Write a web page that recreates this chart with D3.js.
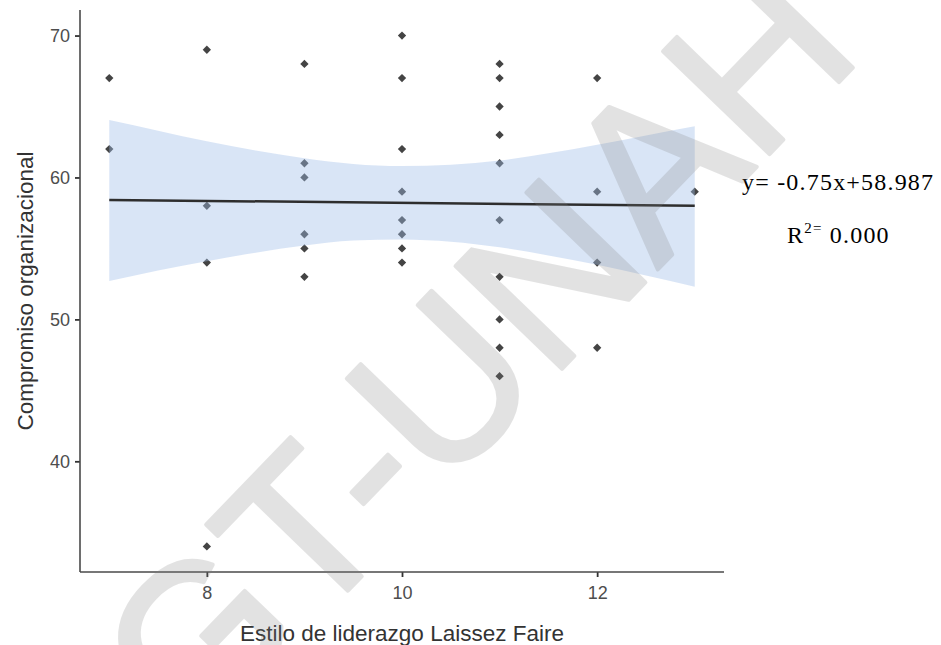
<!DOCTYPE html>
<html>
<head>
<meta charset="utf-8">
<script src="https://cdn.jsdelivr.net/npm/d3@7"></script>
<style>
  html, body { margin: 0; padding: 0; background: #fff; }
  svg { display: block; }
</style>
</head>
<body>
<svg id="chart" width="941" height="645"></svg>
<script>
// ---- data ----
const pointX = [7, 7,
  8, 8, 8, 8,
  9, 9, 9, 9, 9, 9,
  10, 10, 10, 10, 10, 10, 10, 10,
  11, 11, 11, 11, 11, 11, 11, 11, 11, 11,
  12, 12, 12, 12,
  13];
const pointY = [67, 62,
  69, 58, 54, 34,
  68, 61, 60, 56, 55, 53,
  70, 67, 62, 59, 57, 56, 55, 54,
  68, 67, 65, 63, 61, 57, 53, 50, 48, 46,
  67, 59, 54, 48,
  59];
const fitX = [7, 13];
const fitY = [58.42, 58.0];
const bandX  = [7, 7.5, 8, 8.5, 9, 9.5, 10, 10.5, 11, 11.5, 12, 12.5, 13];
const bandHi = [64.05, 63.3, 62.55, 61.9, 61.35, 60.95, 60.8, 60.9, 61.2, 61.7, 62.3, 62.95, 63.6];
const bandLo = [52.7, 53.45, 54.1, 54.7, 55.2, 55.55, 55.63, 55.47, 55.08, 54.5, 53.85, 53.1, 52.3];
const xTicks = [8, 10, 12];
const yTicks = [40, 50, 60, 70];
const xTitle = "Estilo de liderazgo Laissez Faire";
const yTitle = "Compromiso organizacional";
const eqText = "y= -0.75x+58.987";
const r2Value = "0.000";
const watermark = "GT-UNAH";

(function () {
// ---- layout ----
const svg = d3.select("#chart");
const pLeft = 80, pRight = 724, pTop = 10, pBottom = 572;
const x = d3.scaleLinear().domain([6.7, 13.3]).range([pLeft, pRight]);
const y = d3.scaleLinear().domain([32.2, 71.8]).range([pBottom, pTop]);

// points (drawn under the band, as in the reference)
svg.append("g").selectAll("path")
  .data(pointX.map((d, i) => [d, pointY[i]]))
  .join("path")
  .attr("transform", d => `translate(${x(d[0])},${y(d[1])})`)
  .attr("d", d3.symbol().type(d3.symbolDiamond2).size(44))
  .attr("fill", "#444");

// confidence band
const area = d3.area()
  .x((d, i) => x(bandX[i]))
  .y0((d, i) => y(bandLo[i]))
  .y1((d, i) => y(bandHi[i]))
  .curve(d3.curveMonotoneX);
svg.append("path")
  .datum(bandX)
  .attr("d", area)
  .attr("fill", "rgb(161,191,232)")
  .attr("fill-opacity", 0.4);

// fit line
svg.append("path")
  .datum(fitX.map((d, i) => [d, fitY[i]]))
  .attr("d", d3.line().x(d => x(d[0])).y(d => y(d[1])))
  .attr("stroke", "#2e2e2e")
  .attr("stroke-width", 2.5)
  .attr("fill", "none");

// axes
const font = "'Liberation Sans', Arial, sans-serif";
const xAxis = svg.append("g")
  .attr("transform", `translate(0,${pBottom})`)
  .call(d3.axisBottom(x).tickValues(xTicks).tickSize(5).tickPadding(5).tickFormat(d3.format("d")));
const yAxis = svg.append("g")
  .attr("transform", `translate(${pLeft},0)`)
  .call(d3.axisLeft(y).tickValues(yTicks).tickSize(5).tickPadding(5).tickFormat(d3.format("d")));
[xAxis, yAxis].forEach(g => {
  g.select(".domain").remove();
  g.selectAll(".tick line").attr("stroke", "#333").attr("stroke-width", 1.8);
  g.selectAll(".tick text").attr("fill", "#4d4d4d").style("font-family", font).style("font-size", "18px");
});
xAxis.selectAll(".tick text").attr("dy", "0.95em");
// axis lines
svg.append("line").attr("x1", pLeft).attr("x2", pLeft).attr("y1", pTop).attr("y2", pBottom)
  .attr("stroke", "#4a4a4a").attr("stroke-width", 1.6);
svg.append("line").attr("x1", pLeft).attr("x2", pRight).attr("y1", pBottom).attr("y2", pBottom)
  .attr("stroke", "#4a4a4a").attr("stroke-width", 1.6);

// axis titles
svg.append("text")
  .attr("x", (pLeft + pRight) / 2).attr("y", 641)
  .attr("text-anchor", "middle")
  .style("font-family", font).style("font-size", "22.5px")
  .attr("fill", "#333")
  .text(xTitle);
svg.append("text")
  .attr("transform", `translate(33,${(pTop + pBottom) / 2}) rotate(-90)`)
  .attr("text-anchor", "middle")
  .style("font-family", font).style("font-size", "22.5px")
  .attr("fill", "#333")
  .text(yTitle);

// equation annotation
const serif = "'Liberation Serif', 'Times New Roman', serif";
svg.append("text")
  .attr("x", 742).attr("y", 190)
  .style("font-family", serif).style("font-size", "24px")
  .style("letter-spacing", "1.2px")
  .attr("fill", "#000")
  .text(eqText);
const r2 = svg.append("text")
  .attr("x", 787).attr("y", 243)
  .style("font-family", serif).style("font-size", "24px")
  .style("letter-spacing", "1.2px")
  .attr("fill", "#000");
r2.append("tspan").text("R");
r2.append("tspan").attr("dy", -10).style("font-size", "15px").text("2=");
r2.append("tspan").attr("dy", 10).text(" " + r2Value);

// watermark
svg.append("g").attr("opacity", 0.22)
  .append("text")
  .attr("transform", "translate(529,403) rotate(-46)")
  .attr("text-anchor", "middle")
  .style("font-family", font).style("font-size", "215px")
  .attr("fill", "#808080")
  .attr("stroke", "#808080").attr("stroke-width", 4).attr("stroke-linejoin", "round")
  .text(watermark);
})();
</script>
</body>
</html>
